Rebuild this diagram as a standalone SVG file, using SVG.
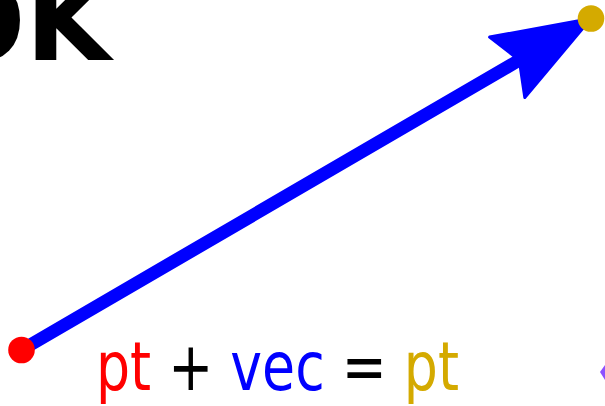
<svg xmlns="http://www.w3.org/2000/svg" width="605" height="406" viewBox="0 0 605 406">
  <style>
    .lbl { font-family: "DejaVu Sans", Verdana, sans-serif; font-size: 68px; }
    .title { font-family: "DejaVu Sans", Verdana, sans-serif; font-size: 110px; font-weight: bold; fill: #000; }
  </style>
  <rect width="605" height="406" fill="#ffffff"/>
  <g id="title">
    <text class="title" x="-68" y="60">OK</text>
  </g>
  <g id="connectors">
    <line x1="21.5" y1="350" x2="522" y2="58.5" stroke="#0000ff" stroke-width="13" stroke-linecap="round"/>
    <polygon points="591,18.5 524.8,97.5 519.3,60.2 489.6,37.1" fill="#0000ff" stroke="#0000ff" stroke-width="3" stroke-linejoin="round"/>
  </g>
  <g id="start-point">
    <circle cx="21.5" cy="350" r="13.3" fill="#ff0000"/>
  </g>
  <g id="end-point">
    <circle cx="591" cy="18.5" r="13.3" fill="#d4aa00"/>
  </g>
  <g id="equation">
    <text class="lbl" transform="translate(96,390) scale(0.79,1)" x="0" y="0"><tspan fill="#ff0000">pt</tspan><tspan fill="#000000"> + </tspan><tspan fill="#0000ff">vec</tspan><tspan fill="#000000"> = </tspan><tspan fill="#d4aa00">pt</tspan></text>
  </g>
  <g id="edge-mark">
    <polygon points="600,372 605,365 605,380" fill="#8c50ff"/>
  </g>
</svg>
